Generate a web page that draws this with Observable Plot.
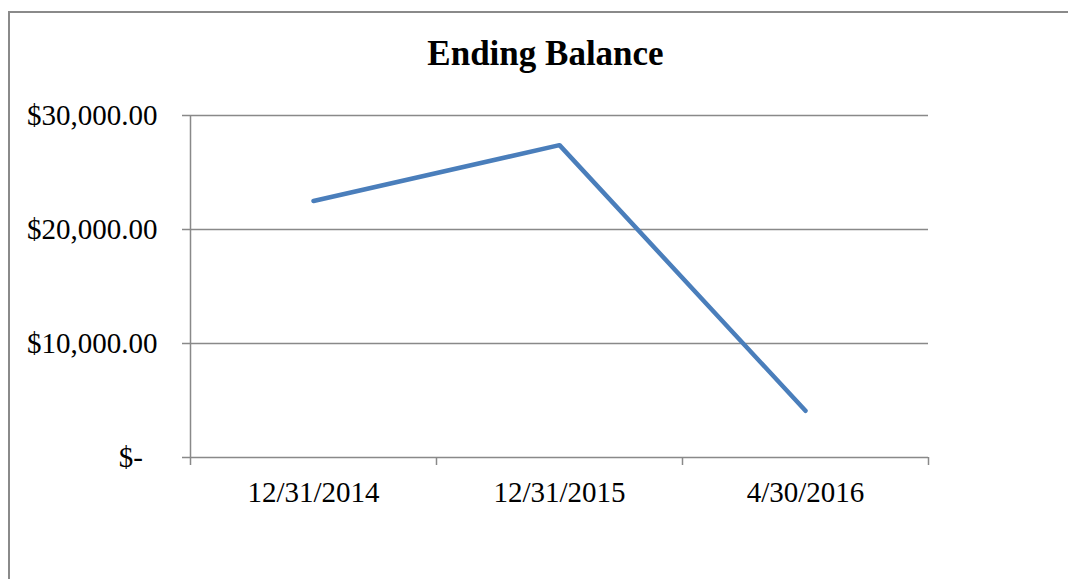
<!DOCTYPE html>
<html>
<head>
<meta charset="utf-8">
<script src="https://cdn.jsdelivr.net/npm/d3@7"></script>
<script src="https://cdn.jsdelivr.net/npm/@observablehq/plot@0.6"></script>
<style>
  html, body { margin: 0; padding: 0; background: #fff; }
  #wrap { position: relative; width: 1068px; height: 579px; overflow: hidden; background: #fff; }
  #frame { position: absolute; left: 8px; top: 11px; width: 3000px; height: 3000px;
           border-top: 2px solid #8a8a8a; border-left: 2px solid #8a8a8a; pointer-events: none; z-index: 2; }
  #title { position: absolute; left: 0; top: 36px; width: 1091px; text-align: center;
           font: bold 35px "Liberation Serif", "Times New Roman", serif; line-height: 35px; color: #000; z-index: 1; }
  #chart { position: absolute; left: 0; top: 0; }
</style>
</head>
<body>
<div id="wrap">
  <div id="chart"></div>
  <div id="title">Ending Balance</div>
  <div id="frame"></div>
</div>
<script>
const dates = ["12/31/2014", "12/31/2015", "4/30/2016"];
const balances = [22500, 27400, 4100];
const yTicks = [0, 10000, 20000, 30000];
const yTickLabels = ["$-", "$10,000.00", "$20,000.00", "$30,000.00"];

const data = dates.map((d, i) => ({date: d, balance: balances[i]}));
const gray = "#898989";

const chart = Plot.plot({
  width: 1068,
  height: 579,
  marginLeft: 190,
  marginRight: 140,
  marginTop: 115,
  marginBottom: 122,
  style: {fontFamily: "'Liberation Serif', 'Times New Roman', serif", fontSize: "29px", color: "#000", background: "transparent"},
  x: {type: "band", domain: dates, padding: 0, tickSize: 0, tickPadding: 24, label: null},
  y: {domain: [0, 30000], ticks: yTicks, tickSize: 0, tickPadding: 33, label: null,
      tickFormat: d => {
        const s = yTickLabels[yTicks.indexOf(d)];
        return d === 0 ? s + "\u00a0\u00a0" : s;
      }},
  marks: [
    Plot.ruleY(yTicks, {stroke: gray, strokeWidth: 1.5, insetLeft: -8}),
    Plot.ruleX([dates[0]], {dx: -123, stroke: gray, strokeWidth: 1.5, insetBottom: -8}),
    Plot.ruleX(dates.slice(1), {dx: -123, y1: 0, y2: 0, insetBottom: -8, stroke: gray, strokeWidth: 1.5}),
    Plot.ruleX([dates[dates.length - 1]], {dx: 123, y1: 0, y2: 0, insetBottom: -8, stroke: gray, strokeWidth: 1.5}),
    Plot.line(data, {x: "date", y: "balance", stroke: "#4a7ebb", strokeWidth: 4.5, strokeLinecap: "round", strokeLinejoin: "round"})
  ]
});
document.getElementById("chart").appendChild(chart);
</script>
</body>
</html>
